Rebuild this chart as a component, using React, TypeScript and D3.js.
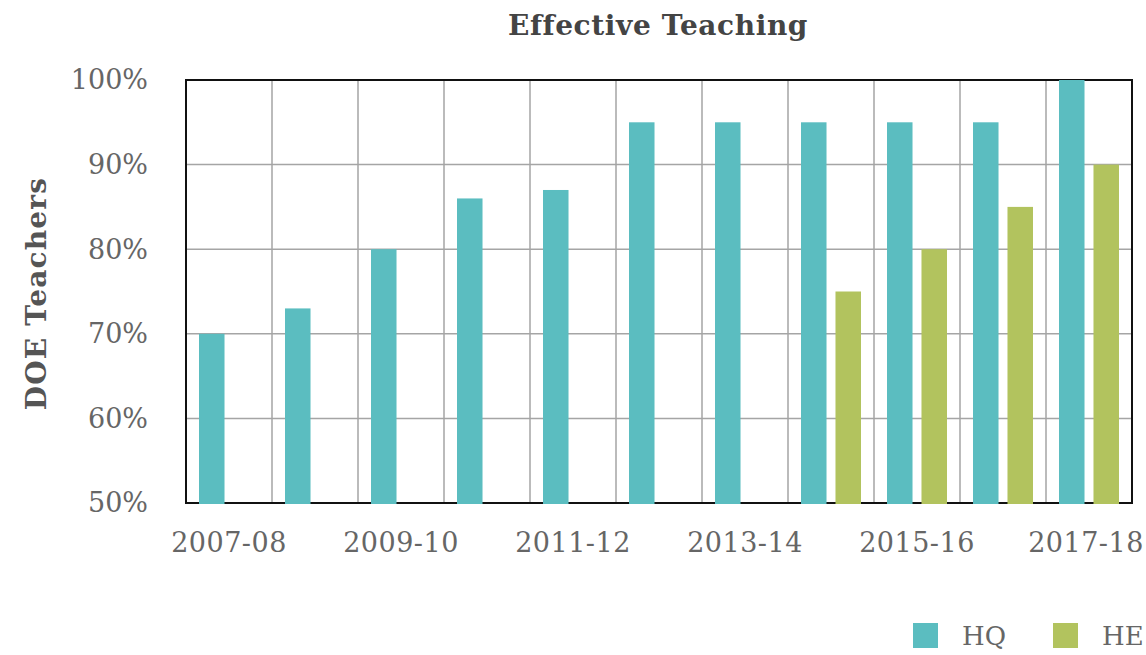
import React from "react";
import * as d3 from "d3";

const categories = ["2007-08","2008-09","2009-10","2010-11","2011-12","2012-13","2013-14","2014-15","2015-16","2016-17","2017-18"];
const hqValues = [70, 73, 80, 86, 87, 95, 95, 95, 95, 95, 100];
const heValues: (number | null)[] = [null, null, null, null, null, null, null, 75, 80, 85, 90];
const yTicks = [50, 60, 70, 80, 90, 100];
const xTickLabels = ["2007-08","2009-10","2011-12","2013-14","2015-16","2017-18"];
const seriesNames = ["HQ", "HE"];
const colors = ["#5bbdc0", "#b2c35e"];

const W = 1146, H = 655;
const left = 186, right = 1132, top = 80, bottom = 503;
const FONT = "'DejaVu Serif', Georgia, serif";

export default function App() {
  const x0 = d3.scaleBand<string>().domain(categories).range([left, right]).padding(0);
  const x1 = d3.scaleBand<string>().domain(seriesNames).range([0, x0.bandwidth()]).paddingInner(0.26).paddingOuter(0.377);
  const y = d3.scaleLinear().domain([50, 100]).range([bottom, top]);
  const series = [hqValues, heValues];
  return (
    <svg width={W} height={H} style={{ position: "absolute", left: 0, top: 0, background: "#fff" }}>
      <text x={658} y={35} textAnchor="middle" fontFamily={FONT} fontWeight="bold" fontSize={28} letterSpacing={0.6} fill="#444">Effective Teaching</text>
      <text transform={`translate(46,${(177 + 410) / 2}) rotate(-90)`} textAnchor="middle" fontFamily={FONT} fontWeight="bold" fontSize={28} letterSpacing={1.2} fill="#555">DOE Teachers</text>
      {yTicks.map(t => (
        <g key={t}>
          <line x1={left} x2={right} y1={y(t)} y2={y(t)} stroke="#a5a5a5" strokeWidth={1.5} />
          <text x={148} y={y(t)} dy="0.35em" textAnchor="end" fontFamily={FONT} fontSize={27} fill="#666">{t}%</text>
        </g>
      ))}
      {categories.map(c => (
        <line key={c} x1={x0(c)!} x2={x0(c)!} y1={top} y2={bottom} stroke="#a5a5a5" strokeWidth={1.5} />
      ))}
      <rect x={left} y={top} width={right - left} height={bottom - top} fill="none" stroke="#111" strokeWidth={2} />
      {series.map((vals, si) => vals.map((v, i) => v == null ? null : (
        <rect key={`${si}-${i}`} x={x0(categories[i])! + x1(seriesNames[si])!} y={y(v)} width={x1.bandwidth()} height={bottom + 1 - y(v)} fill={colors[si]} />
      )))}
      {xTickLabels.map((l, i) => (
        <text key={l} x={x0(l)! + x0.bandwidth() / 2 - (i === xTickLabels.length - 1 ? 3 : 0)} y={552} textAnchor="middle" fontFamily={FONT} fontSize={27} letterSpacing={0.5} fill="#666">{l}</text>
      ))}
      {seriesNames.map((s, i) => (
        <g key={s} transform={`translate(${913 + i * 140},623)`}>
          <rect width={25} height={25} fill={colors[i]} />
          <text x={49} y={22} fontFamily={FONT} fontSize={26} fill="#666">{s}</text>
        </g>
      ))}
    </svg>
  );
}
